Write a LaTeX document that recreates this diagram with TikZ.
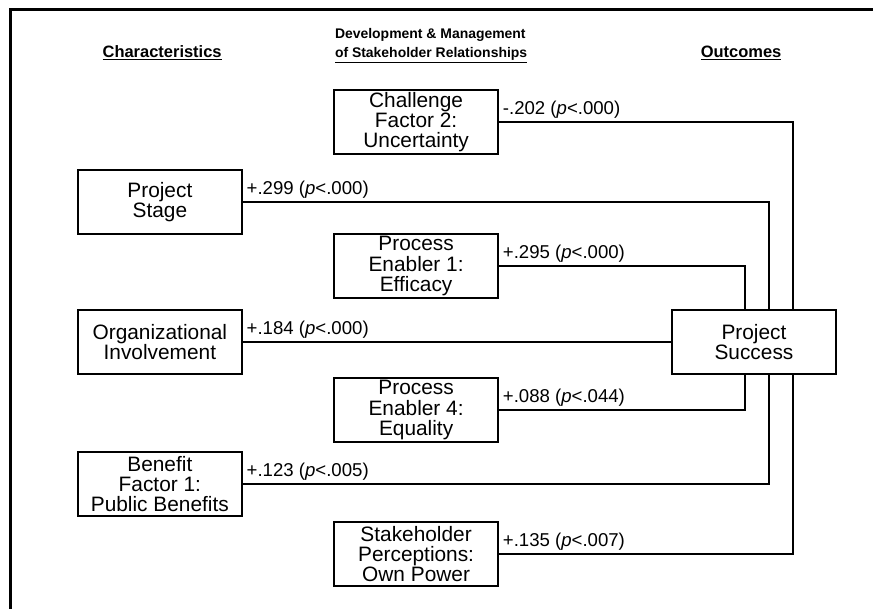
\documentclass[tikz,border=0pt]{standalone}
\usepackage{fontspec}
\setmainfont{Liberation Sans}
\usepackage{tikz}

\begin{document}
\begin{tikzpicture}[
  factor/.style={rectangle,draw,line width=1.5pt,minimum width=4.35cm,minimum height=1.7cm,align=center,inner sep=1pt,font=\fontsize{15.7}{15.2}\selectfont},
  heading/.style={align=center,font=\fontsize{12.4}{14.5}\selectfont\bfseries},
  coef/.style={anchor=south west,inner sep=2pt,font=\fontsize{14}{15}\selectfont},
  link/.style={line width=1.5pt}]
\useasboundingbox (0,0) rectangle (23.10,-16.11);
\draw[line width=2.25pt] (23.2,-0.24) -- (0.29,-0.24) -- (0.29,-16.2);
\path (4.29,-1.40) node(h1)[heading]{\underline{Characteristics}}
(8.74,-1.21) node(h2)[heading,anchor=west,align=left,font=\fontsize{10.5}{14.3}\selectfont\bfseries]{Development \& Management\\ \underline{of Stakeholder Relationships}}
(19.61,-1.40) node(h3)[heading]{\underline{Outcomes}};
\path (11.01,-3.23) node(chal)[factor]{Challenge\\ Factor 2:\\ Uncertainty}
(4.23,-5.34) node(stage)[factor]{Project\\ Stage}
(11.01,-7.04) node(enab1)[factor]{Process\\ Enabler 1:\\ Efficacy}
(4.23,-9.05) node(org)[factor]{Organizational\\ Involvement}
(11.01,-10.85) node(enab4)[factor]{Process\\ Enabler 4:\\ Equality}
(4.23,-12.81) node(bene)[factor]{Benefit\\ Factor 1:\\ Public Benefits}
(11.01,-14.66) node(power)[factor]{Stakeholder\\ Perceptions:\\ Own Power}
(19.95,-9.05) node(succ)[factor]{Project\\ Success};
\draw[link](chal.east) node[coef]{-.202 (\textit{p}<.000)} -| ([xshift=1.03cm]succ.north);
\draw[link](stage.east) node[coef]{+.299 (\textit{p}<.000)} -| ([xshift=0.40cm]succ.north);
\draw[link](enab1.east) node[coef]{+.295 (\textit{p}<.000)} -| ([xshift=-0.24cm]succ.north);
\draw[link](org.east) node[coef]{+.184 (\textit{p}<.000)} -- (succ.west);
\draw[link](enab4.east) node[coef]{+.088 (\textit{p}<.044)} -| ([xshift=-0.24cm]succ.south);
\draw[link](bene.east) node[coef]{+.123 (\textit{p}<.005)} -| ([xshift=0.40cm]succ.south);
\draw[link](power.east) node[coef]{+.135 (\textit{p}<.007)} -| ([xshift=1.03cm]succ.south);
\end{tikzpicture}
\end{document}
